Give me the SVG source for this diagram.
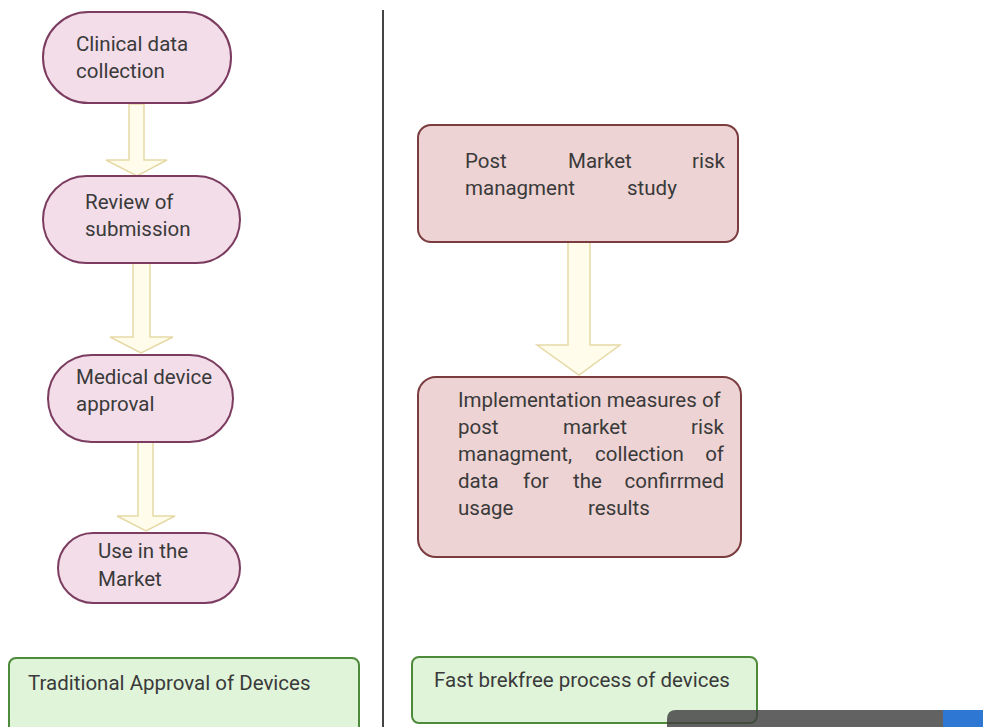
<svg xmlns="http://www.w3.org/2000/svg" width="988" height="727" viewBox="0 0 988 727">
<style>
  .t { font-family: Roboto, "Liberation Sans", sans-serif; font-size: 20.5px; fill: #3a3a3a; }
  .pill { fill: #f3dde9; stroke: #7b3c60; stroke-width: 2; }
  .box { fill: #edd3d4; stroke: #7a3c3e; stroke-width: 2; }
  .green { fill: #e0f4da; stroke: #4d8a3a; stroke-width: 2; }
  .arrow { fill: #fffcec; stroke: #e6d9a6; stroke-width: 1.5; stroke-linejoin: miter; }
</style>
<rect width="988" height="727" fill="#ffffff"/>
<line x1="383" y1="10" x2="383" y2="727" stroke="#444444" stroke-width="2"/>

<g id="connectors">
  <path class="arrow" d="M129,104 H144 V160 H167 L137,176 L106,160 H129 Z"/>
  <path class="arrow" d="M133,263 H150 V337 H173 L141,353 L110,337 H133 Z"/>
  <path class="arrow" d="M138,442 H153 V516 H175 L146,531 L117,516 H138 Z"/>
  <path class="arrow" d="M568,242 H590 V345 H620 L579,375 L537,345 H568 Z"/>
</g>

<g id="clinical">
  <rect class="pill" x="43" y="12" width="188" height="91" rx="45.5"/>
  <text class="t" x="76" y="51">Clinical data</text>
  <text class="t" x="76" y="78">collection</text>
</g>
<g id="review">
  <rect class="pill" x="43" y="176" width="197" height="87" rx="43.5"/>
  <text class="t" x="85" y="209">Review of</text>
  <text class="t" x="85" y="236">submission</text>
</g>
<g id="approval">
  <rect class="pill" x="48" y="355" width="185" height="87" rx="43.5"/>
  <text class="t" x="76" y="384">Medical device</text>
  <text class="t" x="76" y="411">approval</text>
</g>
<g id="market">
  <rect class="pill" x="58" y="533" width="182" height="70" rx="35"/>
  <text class="t" x="98" y="558">Use in the</text>
  <text class="t" x="98" y="586">Market</text>
</g>

<g id="postmarket">
  <rect class="box" x="418" y="125" width="320" height="117" rx="13"/>
  <text class="t" x="465" y="168">Post</text>
  <text class="t" x="568" y="168">Market</text>
  <text class="t" x="725" y="168" text-anchor="end">risk</text>
  <text class="t" x="465" y="195">managment</text>
  <text class="t" x="627" y="195">study</text>
</g>

<g id="implementation">
  <rect class="box" x="418" y="377" width="323" height="180" rx="18"/>
  <text class="t" x="458" y="407">Implementation measures of</text>
  <text class="t" x="458" y="434">post</text>
  <text class="t" x="563" y="434">market</text>
  <text class="t" x="724" y="434" text-anchor="end">risk</text>
  <text class="t" x="458" y="461">managment,</text>
  <text class="t" x="595" y="461">collection</text>
  <text class="t" x="724" y="461" text-anchor="end">of</text>
  <text class="t" x="458" y="488">data</text>
  <text class="t" x="523" y="488">for</text>
  <text class="t" x="573" y="488">the</text>
  <text class="t" x="724" y="488" text-anchor="end">confirrmed</text>
  <text class="t" x="458" y="515">usage</text>
  <text class="t" x="588" y="515">results</text>
</g>

<g id="traditional">
  <rect class="green" x="9" y="658" width="350" height="80" rx="7"/>
  <text class="t" x="28" y="690">Traditional Approval of Devices</text>
</g>
<g id="fast">
  <rect class="green" x="412" y="657" width="345" height="66" rx="7"/>
  <text class="t" x="434" y="687">Fast brekfree process of devices</text>
</g>

<g id="banner">
  <path d="M676,710 H943 V727 H667 V719 Q667,710 676,710 Z" fill="#3f3f3f" fill-opacity="0.82"/>
  <rect x="943" y="710" width="40" height="17" fill="#2e78d4"/>
</g>
</svg>
